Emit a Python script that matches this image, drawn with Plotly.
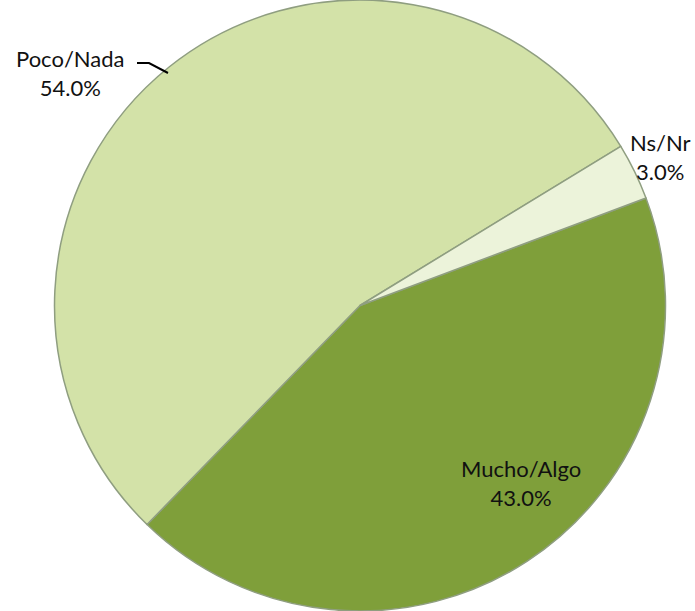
import plotly.graph_objects as go

categories = ["Mucho/Algo", "Poco/Nada", "Ns/Nr"]
values = [43.0, 54.0, 3.0]
colors = ["#7f9f3a", "#d3e2a8", "#ecf3da"]

fig = go.Figure()
fig.add_trace(go.Pie(
    labels=categories,
    values=values,
    sort=False,
    direction="clockwise",
    rotation=69.4,
    marker=dict(colors=colors, line=dict(color="#8f9e80", width=1.5)),
    textinfo="none",
    hoverinfo="label+percent",
    domain=dict(x=[0.036, 1.0], y=[0.0, 1.0]),
    showlegend=False,
))

label_pos = {
    "Poco/Nada": (70, 73),
    "Ns/Nr": (660, 157),
    "Mucho/Algo": (521, 483),
}
W, H = 695, 611
annotations = []
for cat, val in zip(categories, values):
    x, y = label_pos[cat]
    annotations.append(dict(
        x=x / W, y=1 - y / H, xref="paper", yref="paper",
        text=f"{cat}<br>{val:.1f}%", showarrow=False,
        font=dict(family="Lato, Carlito, sans-serif", size=22, color="#111111"),
        align="center", xanchor="center", yanchor="middle",
    ))

fig.update_layout(
    width=W, height=H,
    margin=dict(l=0, r=0, t=0, b=0),
    paper_bgcolor="white",
    plot_bgcolor="white",
    annotations=annotations,
    shapes=[dict(
        type="path", xref="paper", yref="paper",
        path=f"M {137/W} {1-63/H} L {149/W} {1-63/H} L {168/W} {1-73/H}",
        line=dict(color="black", width=2),
    )],
)

fig.write_html(
    "out.html",
    config={"displayModeBar": False},
    post_script="document.body.style.margin='0';document.body.style.overflow='hidden';",
)
